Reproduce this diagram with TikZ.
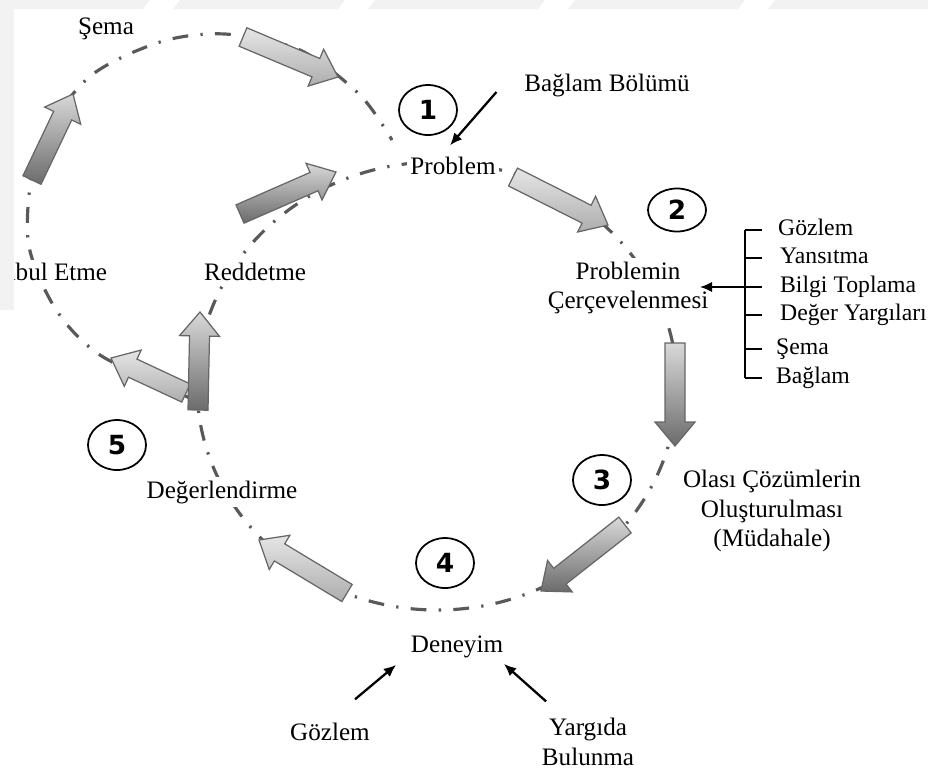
\documentclass[tikz,border=0pt]{standalone}
\usepackage{fontspec}
\setmainfont{Liberation Serif}
\newfontfamily\numfont{DejaVu Sans}
\usepackage{xcolor}
\usepackage{tikz}
\usetikzlibrary{arrows.meta,positioning,shapes.geometric,calc}

\newcommand{\blockarrow}[3][]{%
  \coordinate (neck) at ($(#3)!0.48cm!(#2)$);
  \draw[blockarr,#1] ($(#2)!0.2cm!90:(#3)$) -- ($(neck)!0.2cm!-90:(#2)$) -- ($(neck)!0.4cm!-90:(#2)$) -- (#3)
    -- ($(neck)!0.4cm!90:(#2)$) -- ($(neck)!0.2cm!90:(#2)$) -- ($(#2)!0.2cm!-90:(#3)$) -- cycle;
}

\begin{document}
\begin{tikzpicture}[
  x=0.02cm, y=0.02cm,
  >=Latex,
  stage/.style={fill=white, inner sep=2pt, align=center, font=\fontsize{14.3}{17}\selectfont},
  listitem/.style={anchor=west, inner sep=1pt, text height=1.6ex, text depth=.3ex, font=\fontsize{13.5}{16}\selectfont},
  stepnum/.style={draw, ellipse, line width=1pt, minimum width=1.16cm, minimum height=1cm, inner sep=0pt, font=\numfont\bfseries\fontsize{15}{17}\selectfont},
  loopline/.style={line width=1.8pt, black!65, dash pattern=on 9pt off 7pt on 1.3pt off 7pt},
  blockarr/.style={draw=black!60, line width=0.7pt, top color=black!15, bottom color=black!58},
  lightarr/.style={top color=black!10, bottom color=black!32},
  pointer/.style={-{Latex[length=7pt,width=6pt]}, line width=1.3pt},
  tick/.style={line width=0.7pt}
]

\useasboundingbox (0,0) rectangle (928,-769);
\fill[black!5] (0,0) -- (150,0) -- (143,-9) -- (0,-9) -- cycle;
\fill[black!5] (180,0) -- (345,0) -- (338,-9) -- (173,-9) -- cycle;
\fill[black!5] (375,0) -- (545,0) -- (538,-9) -- (368,-9) -- cycle;
\fill[black!5] (575,0) -- (745,0) -- (738,-9) -- (568,-9) -- cycle;
\fill[black!5] (775,0) -- (928,0) -- (928,-9) -- (768,-9) -- cycle;

\draw[loopline] (437,-386) ellipse [x radius=240, y radius=224];
\draw[loopline] plot[smooth] coordinates {(190,-398) (100,-355) (55,-308) (28,-240) (38,-150) (88,-78) (160,-42) (225,-34) (300,-50) (360,-95) (392,-140)};

\node[stage] (sema) at (106,-29) {Şema};
\node[stage] (baglam) at (607,-85) {Bağlam Bölümü};
\node[stage] (problem) at (453,-166) {Problem};
\node[stage, anchor=east] (kabul) at (111,-272) {Kabul Etme};
\node[stage] (reddetme) at (255,-272) {Reddetme};
\node[stage] (cerceve) at (628,-288) {Problemin\\Çerçevelenmesi};
\node[stage] (olasi) at (772,-511) {Olası Çözümlerin\\Oluşturulması\\(Müdahale)};
\node[stage] (degerlendirme) at (222,-492) {Değerlendirme};
\node[stage] (deneyim) at (457,-647) {Deneyim};
\node[stage] (gozlem) at (330,-732) {Gözlem};
\node[stage] (yargi) at (588,-742) {Yargıda\\Bulunma};

\fill[black!5] (0,-9) rectangle (14,-310);

\node[listitem] (li1) at (776,-230) {Gözlem};
\node[listitem] (li2) at (778,-258) {Yansıtma};
\node[listitem] (li3) at (778,-287) {Bilgi Toplama};
\node[listitem] (li4) at (778,-315) {Değer Yargıları};
\node[listitem] (li5) at (774,-349) {Şema};
\node[listitem] (li6) at (774,-378) {Bağlam};

\coordinate (arr1-from) at (243,-37);  \coordinate (arr1-to) at (338,-77);
\coordinate (arr2-from) at (32,-180);  \coordinate (arr2-to) at (73,-94);
\coordinate (arr3-from) at (240,-214); \coordinate (arr3-to) at (336,-172);
\coordinate (arr4-from) at (513,-177); \coordinate (arr4-to) at (608,-225);
\coordinate (arr5-from) at (675,-343); \coordinate (arr5-to) at (675,-446);
\coordinate (arr6-from) at (625,-525); \coordinate (arr6-to) at (541,-591);
\coordinate (arr7-from) at (347,-593); \coordinate (arr7-to) at (259,-540);
\coordinate (arr8-from) at (198,-410); \coordinate (arr8-to) at (200,-312);
\coordinate (arr9-from) at (186,-393); \coordinate (arr9-to) at (111,-358);

\blockarrow[lightarr]{arr1-from}{arr1-to}
\blockarrow{arr2-from}{arr2-to}
\blockarrow{arr3-from}{arr3-to}
\blockarrow[lightarr]{arr4-from}{arr4-to}
\blockarrow{arr5-from}{arr5-to}
\blockarrow{arr6-from}{arr6-to}
\blockarrow[lightarr]{arr7-from}{arr7-to}
\blockarrow[lightarr]{arr9-from}{arr9-to}
\blockarrow{arr8-from}{arr8-to}

\node[stepnum] (n1) at (428,-110) {1};
\node[stepnum, minimum height=0.86cm] (n2) at (677,-210) {2};
\node[stepnum] (n3) at (602,-480) {3};
\node[stepnum] (n4) at (445,-563) {4};
\node[stepnum] (n5) at (117,-445) {5};

\draw[pointer] ($(baglam.west)+(-24,-7)$) -- ($(problem.north)+(-3,8)$);
\draw[pointer] ($(gozlem.north)+(25,20)$) -- ($(deneyim.south west)+(-11,-3)$);
\draw[pointer] ($(yargi.north west)+(8,13)$) -- ($(deneyim.south east)+(-3,-2)$);

\coordinate (spine) at (745,-228);
\draw[tick] (spine |- li1.west) -- (spine |- li6.west);
\draw[tick] (spine |- li1.west) -- ++(17,0);
\draw[tick] (spine |- li2.west) -- ++(17,0);
\draw[tick] (spine |- li3.west) -- ++(17,0);
\draw[tick] (spine |- li4.west) -- ++(17,0);
\draw[tick] (spine |- li5.west) -- ++(17,0);
\draw[tick] (spine |- li6.west) -- ++(17,0);
\draw[pointer] (spine |- li3.west) -- ([xshift=-7pt]cerceve.east |- li3.west);

\end{tikzpicture}
\end{document}
